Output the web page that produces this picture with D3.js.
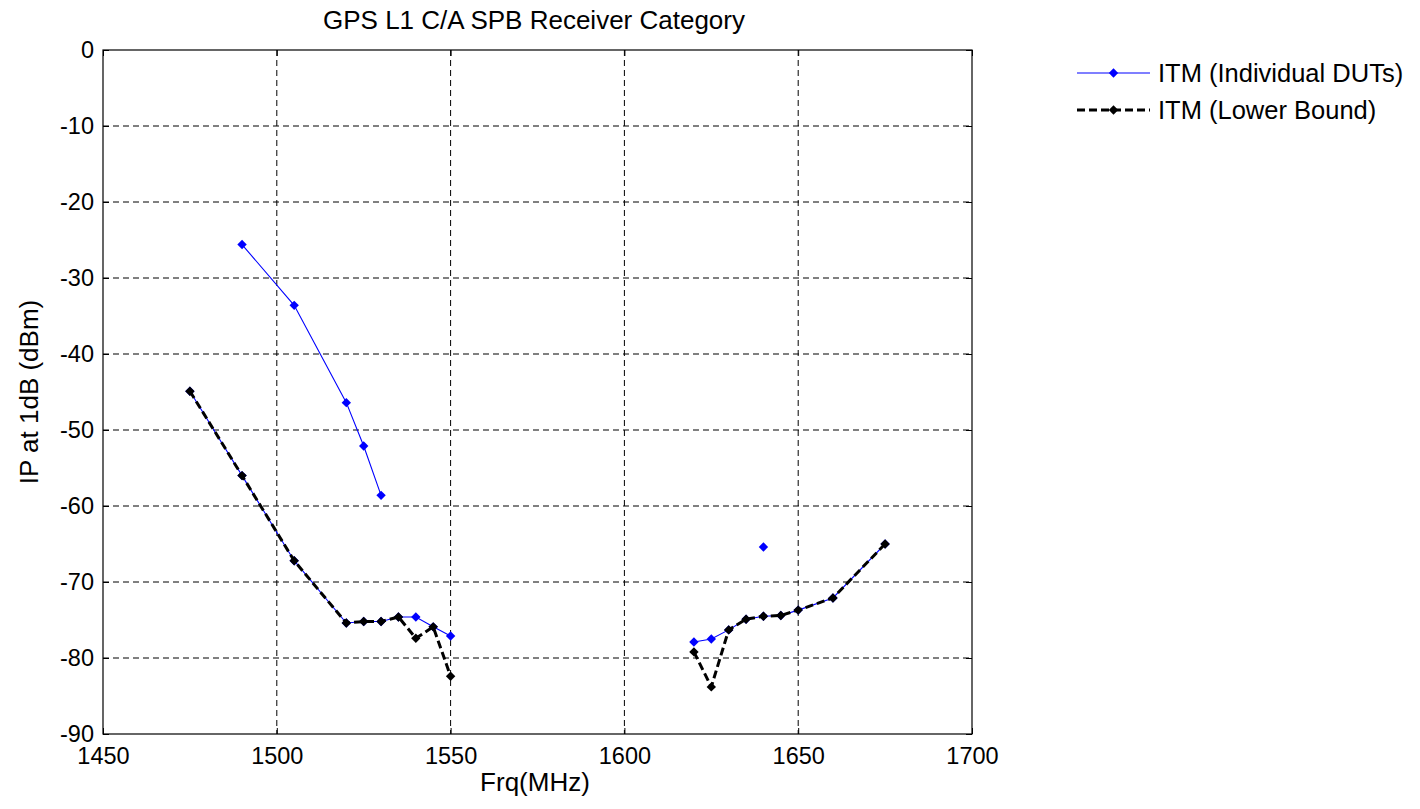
<!DOCTYPE html>
<html>
<head>
<meta charset="utf-8">
<script src="https://cdn.jsdelivr.net/npm/d3@7"></script>
<style>
  html, body { margin: 0; padding: 0; background: #fff; }
  svg { display: block; font-family: "Liberation Sans", Arial, sans-serif; }
</style>
</head>
<body>
<svg id="chart" width="1420" height="809"></svg>
<script>
// ---- data ----
const xTicks = [1450, 1500, 1550, 1600, 1650, 1700];
const yTicks = [0, -10, -20, -30, -40, -50, -60, -70, -80, -90];

// Individual DUTs (blue)
const dutA = [[1490, -25.6], [1505, -33.6], [1520, -46.4], [1525, -52.1], [1530, -58.6]];
const dutB = [[1475, -44.9], [1490, -56.0], [1505, -67.2], [1520, -75.4], [1525, -75.2], [1530, -75.2],
              [1535, -74.6], [1540, -74.6], [1545, -75.9], [1550, -77.1]];
const dutC = [[1620, -77.9], [1625, -77.5], [1630, -76.3], [1635, -74.9], [1640, -74.5], [1645, -74.4],
              [1650, -73.7], [1660, -72.1], [1675, -65.0]];
const dutD = [[1640, -65.4]];

// Lower bound (black dashed)
const lowerLeft = [[1475, -44.9], [1490, -56.0], [1505, -67.2], [1520, -75.4], [1525, -75.2], [1530, -75.2],
                   [1535, -74.6], [1540, -77.4], [1545, -75.9], [1550, -82.4]];
const lowerRight = [[1620, -79.2], [1625, -83.8], [1630, -76.3], [1635, -74.9], [1640, -74.5], [1645, -74.4],
                    [1650, -73.7], [1660, -72.1], [1675, -65.0]];

const dutSeries = [dutA, dutB, dutC, dutD];
const lowerSeries = [lowerLeft, lowerRight];

// ---- layout ----
const L = 103, R = 972, T = 50, B = 734;
const svg = d3.select("#chart");
const x = d3.scaleLinear().domain([1450, 1700]).range([L, R]);
const y = d3.scaleLinear().domain([-90, 0]).range([B, T]);

const BLUE = "#0000ff";
const fsTick = 23.5, fsLabel = 26, fsLegend = 25.5;

// grid
const grid = svg.append("g");
grid.selectAll(".gx").data(xTicks.slice(1, -1)).enter().append("line")
  .attr("x1", d => x(d)).attr("x2", d => x(d)).attr("y1", T).attr("y2", B)
  .attr("stroke", "#000").attr("stroke-width", 1).attr("stroke-dasharray", "6,4");
grid.selectAll(".gy").data(yTicks.slice(1, -1)).enter().append("line")
  .attr("y1", d => y(d)).attr("y2", d => y(d)).attr("x1", L).attr("x2", R)
  .attr("stroke", "#000").attr("stroke-width", 1).attr("stroke-dasharray", "6,4");

// axes (ticks inward, labels outside)
const tickLen = 6;
const fmt = d => String(d);
const axB = svg.append("g").attr("transform", `translate(0,${B})`)
  .call(d3.axisBottom(x).tickValues(xTicks).tickSize(-tickLen).tickPadding(13).tickFormat(fmt));
const axL = svg.append("g").attr("transform", `translate(${L},0)`)
  .call(d3.axisLeft(y).tickValues(yTicks).tickSize(-tickLen).tickPadding(9).tickFormat(fmt));
const axT = svg.append("g").attr("transform", `translate(0,${T})`)
  .call(d3.axisTop(x).tickValues(xTicks).tickSize(-tickLen).tickFormat(""));
const axR = svg.append("g").attr("transform", `translate(${R},0)`)
  .call(d3.axisRight(y).tickValues(yTicks).tickSize(-tickLen).tickFormat(""));
[axB, axL, axT, axR].forEach(a => {
  a.select(".domain").remove();
  a.selectAll("line").attr("stroke", "#000").attr("stroke-width", 1);
  a.selectAll("text").attr("fill", "#000").style("font-size", fsTick + "px")
    .style("font-family", '"Liberation Sans", Arial, sans-serif');
});
axB.selectAll("text").attr("dy", "0.71em");
svg.append("rect").attr("x", L).attr("y", T).attr("width", R - L).attr("height", B - T)
  .attr("fill", "none").attr("stroke", "#000").attr("stroke-width", 1.2);

// lines
const line = d3.line().x(d => x(d[0])).y(d => y(d[1]));
const diamond = d3.symbol().type(d3.symbolSquare).size(44);

const gDut = svg.append("g");
dutSeries.forEach(s => {
  gDut.append("path").datum(s).attr("d", line).attr("fill", "none")
    .attr("stroke", BLUE).attr("stroke-width", 1.1);
  gDut.selectAll(null).data(s).enter().append("path")
    .attr("d", diamond)
    .attr("transform", d => `translate(${x(d[0])},${y(d[1])}) rotate(45)`)
    .attr("fill", BLUE);
});

const gLow = svg.append("g");
lowerSeries.forEach(s => {
  gLow.append("path").datum(s).attr("d", line).attr("fill", "none")
    .attr("stroke", "#000").attr("stroke-width", 3).attr("stroke-dasharray", "8,4");
  gLow.selectAll(null).data(s).enter().append("path")
    .attr("d", diamond)
    .attr("transform", d => `translate(${x(d[0])},${y(d[1])}) rotate(45)`)
    .attr("fill", "#000");
});

// title & labels
svg.append("text").attr("x", 534).attr("y", 29).attr("text-anchor", "middle")
  .style("font-size", fsLabel + "px").attr("fill", "#000").text("GPS L1 C/A SPB Receiver Category");
svg.append("text").attr("x", 535).attr("y", 791).attr("text-anchor", "middle")
  .style("font-size", fsLabel + "px").attr("fill", "#000").text("Frq(MHz)");
svg.append("text").attr("transform", `translate(38,${(T + B) / 2}) rotate(-90)`).attr("text-anchor", "middle")
  .style("font-size", fsLabel + "px").attr("fill", "#000").text("IP at 1dB (dBm)");

// legend
const legend = [
  { label: "ITM (Individual DUTs)", color: BLUE, width: 1.1, dash: null },
  { label: "ITM (Lower Bound)", color: "#000", width: 3, dash: "8,4" }
];
const lg = svg.append("g");
legend.forEach((d, i) => {
  const yy = 73 + i * 37;
  lg.append("line").attr("x1", 1077).attr("x2", 1150).attr("y1", yy).attr("y2", yy)
    .attr("stroke", d.color).attr("stroke-width", d.width).attr("stroke-dasharray", d.dash);
  lg.append("path").attr("d", diamond).attr("transform", `translate(1113.5,${yy}) rotate(45)`).attr("fill", d.color);
  lg.append("text").attr("x", 1158).attr("y", yy).attr("dy", "0.36em")
    .style("font-size", fsLegend + "px").attr("fill", "#000").text(d.label);
});
</script>
</body>
</html>
